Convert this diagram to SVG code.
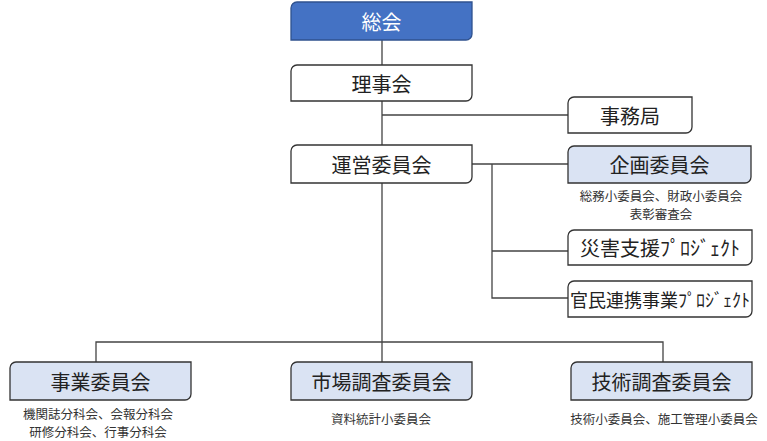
<svg xmlns="http://www.w3.org/2000/svg" width="767" height="441" viewBox="0 0 767 441">
<style>
.box{fill:#fff;stroke:#333;stroke-width:1.3}
.blue{fill:#dae3f3}
.top{fill:#4472c4;stroke:#2f528f}
.lbl{font-family:"Noto Sans CJK JP","Noto Sans CJK SC",sans-serif;font-size:20px;fill:#222;text-anchor:middle;dominant-baseline:central}
.wt{fill:#fff}
.sub{font-family:"Noto Sans CJK JP","Noto Sans CJK SC",sans-serif;font-size:12.5px;fill:#333;text-anchor:middle;dominant-baseline:central}
.con{fill:none;stroke:#444;stroke-width:1.3}
</style>
<rect width="767" height="441" fill="#fff"/>
<g id="connectors">
<path class="con" d="M382,40V65M382,101V145M382,115H568M382,183V362M472,164H568M492,164V298H568M492,251H568M96,362V342H663V362"/>
</g>
<g id="soukai">
<path class="box top" d="M297,2H472V34A6,6 0 0 1 466,40H291V8A6,6 0 0 1 297,2Z"/>
<text class="lbl wt" x="381.5" y="21">総会</text>
</g>
<g id="rijikai">
<path class="box" d="M297,65H472V95A6,6 0 0 1 466,101H291V71A6,6 0 0 1 297,65Z"/>
<text class="lbl" x="381.5" y="83">理事会</text>
</g>
<g id="unei">
<path class="box" d="M297,145H472V177A6,6 0 0 1 466,183H291V151A6,6 0 0 1 297,145Z"/>
<text class="lbl" x="381.5" y="164">運営委員会</text>
</g>
<g id="jimukyoku">
<path class="box" d="M574,97H692V127A6,6 0 0 1 686,133H568V103A6,6 0 0 1 574,97Z"/>
<text class="lbl" x="630" y="115">事務局</text>
</g>
<g id="kikaku">
<path class="box blue" d="M574,146H751V177A6,6 0 0 1 745,183H568V152A6,6 0 0 1 574,146Z"/>
<text class="lbl" x="659.5" y="164.5">企画委員会</text>
<text class="sub"><tspan x="661" y="195">総務小委員会、財政小委員会</tspan><tspan x="661" y="213">表彰審査会</tspan></text>
</g>
<g id="saigai">
<path class="box" d="M574,230H752V259A6,6 0 0 1 746,265H568V236A6,6 0 0 1 574,230Z"/>
<text class="lbl" x="660" y="247.5">災害支援ﾌﾟﾛｼﾞｪｸﾄ</text>
</g>
<g id="kanmin">
<path class="box" d="M574,281H752V311A6,6 0 0 1 746,317H568V287A6,6 0 0 1 574,281Z"/>
<text class="lbl" x="660" y="299" style="font-size:18px">官民連携事業ﾌﾟﾛｼﾞｪｸﾄ</text>
</g>
<g id="jigyou">
<path class="box blue" d="M16,362H191V394A6,6 0 0 1 185,400H10V368A6,6 0 0 1 16,362Z"/>
<text class="lbl" x="100.5" y="381">事業委員会</text>
<text class="sub"><tspan x="98" y="413">機関誌分科会、会報分科会</tspan><tspan x="98" y="431">研修分科会、行事分科会</tspan></text>
</g>
<g id="shijou">
<path class="box blue" d="M297,362H472V394A6,6 0 0 1 466,400H291V368A6,6 0 0 1 297,362Z"/>
<text class="lbl" x="381.5" y="381">市場調査委員会</text>
<text class="sub" x="381" y="418">資料統計小委員会</text>
</g>
<g id="gijutsu">
<path class="box blue" d="M577,362H752V394A6,6 0 0 1 746,400H571V368A6,6 0 0 1 577,362Z"/>
<text class="lbl" x="661.5" y="381">技術調査委員会</text>
<text class="sub" x="664" y="418">技術小委員会、施工管理小委員会</text>
</g>
</svg>
